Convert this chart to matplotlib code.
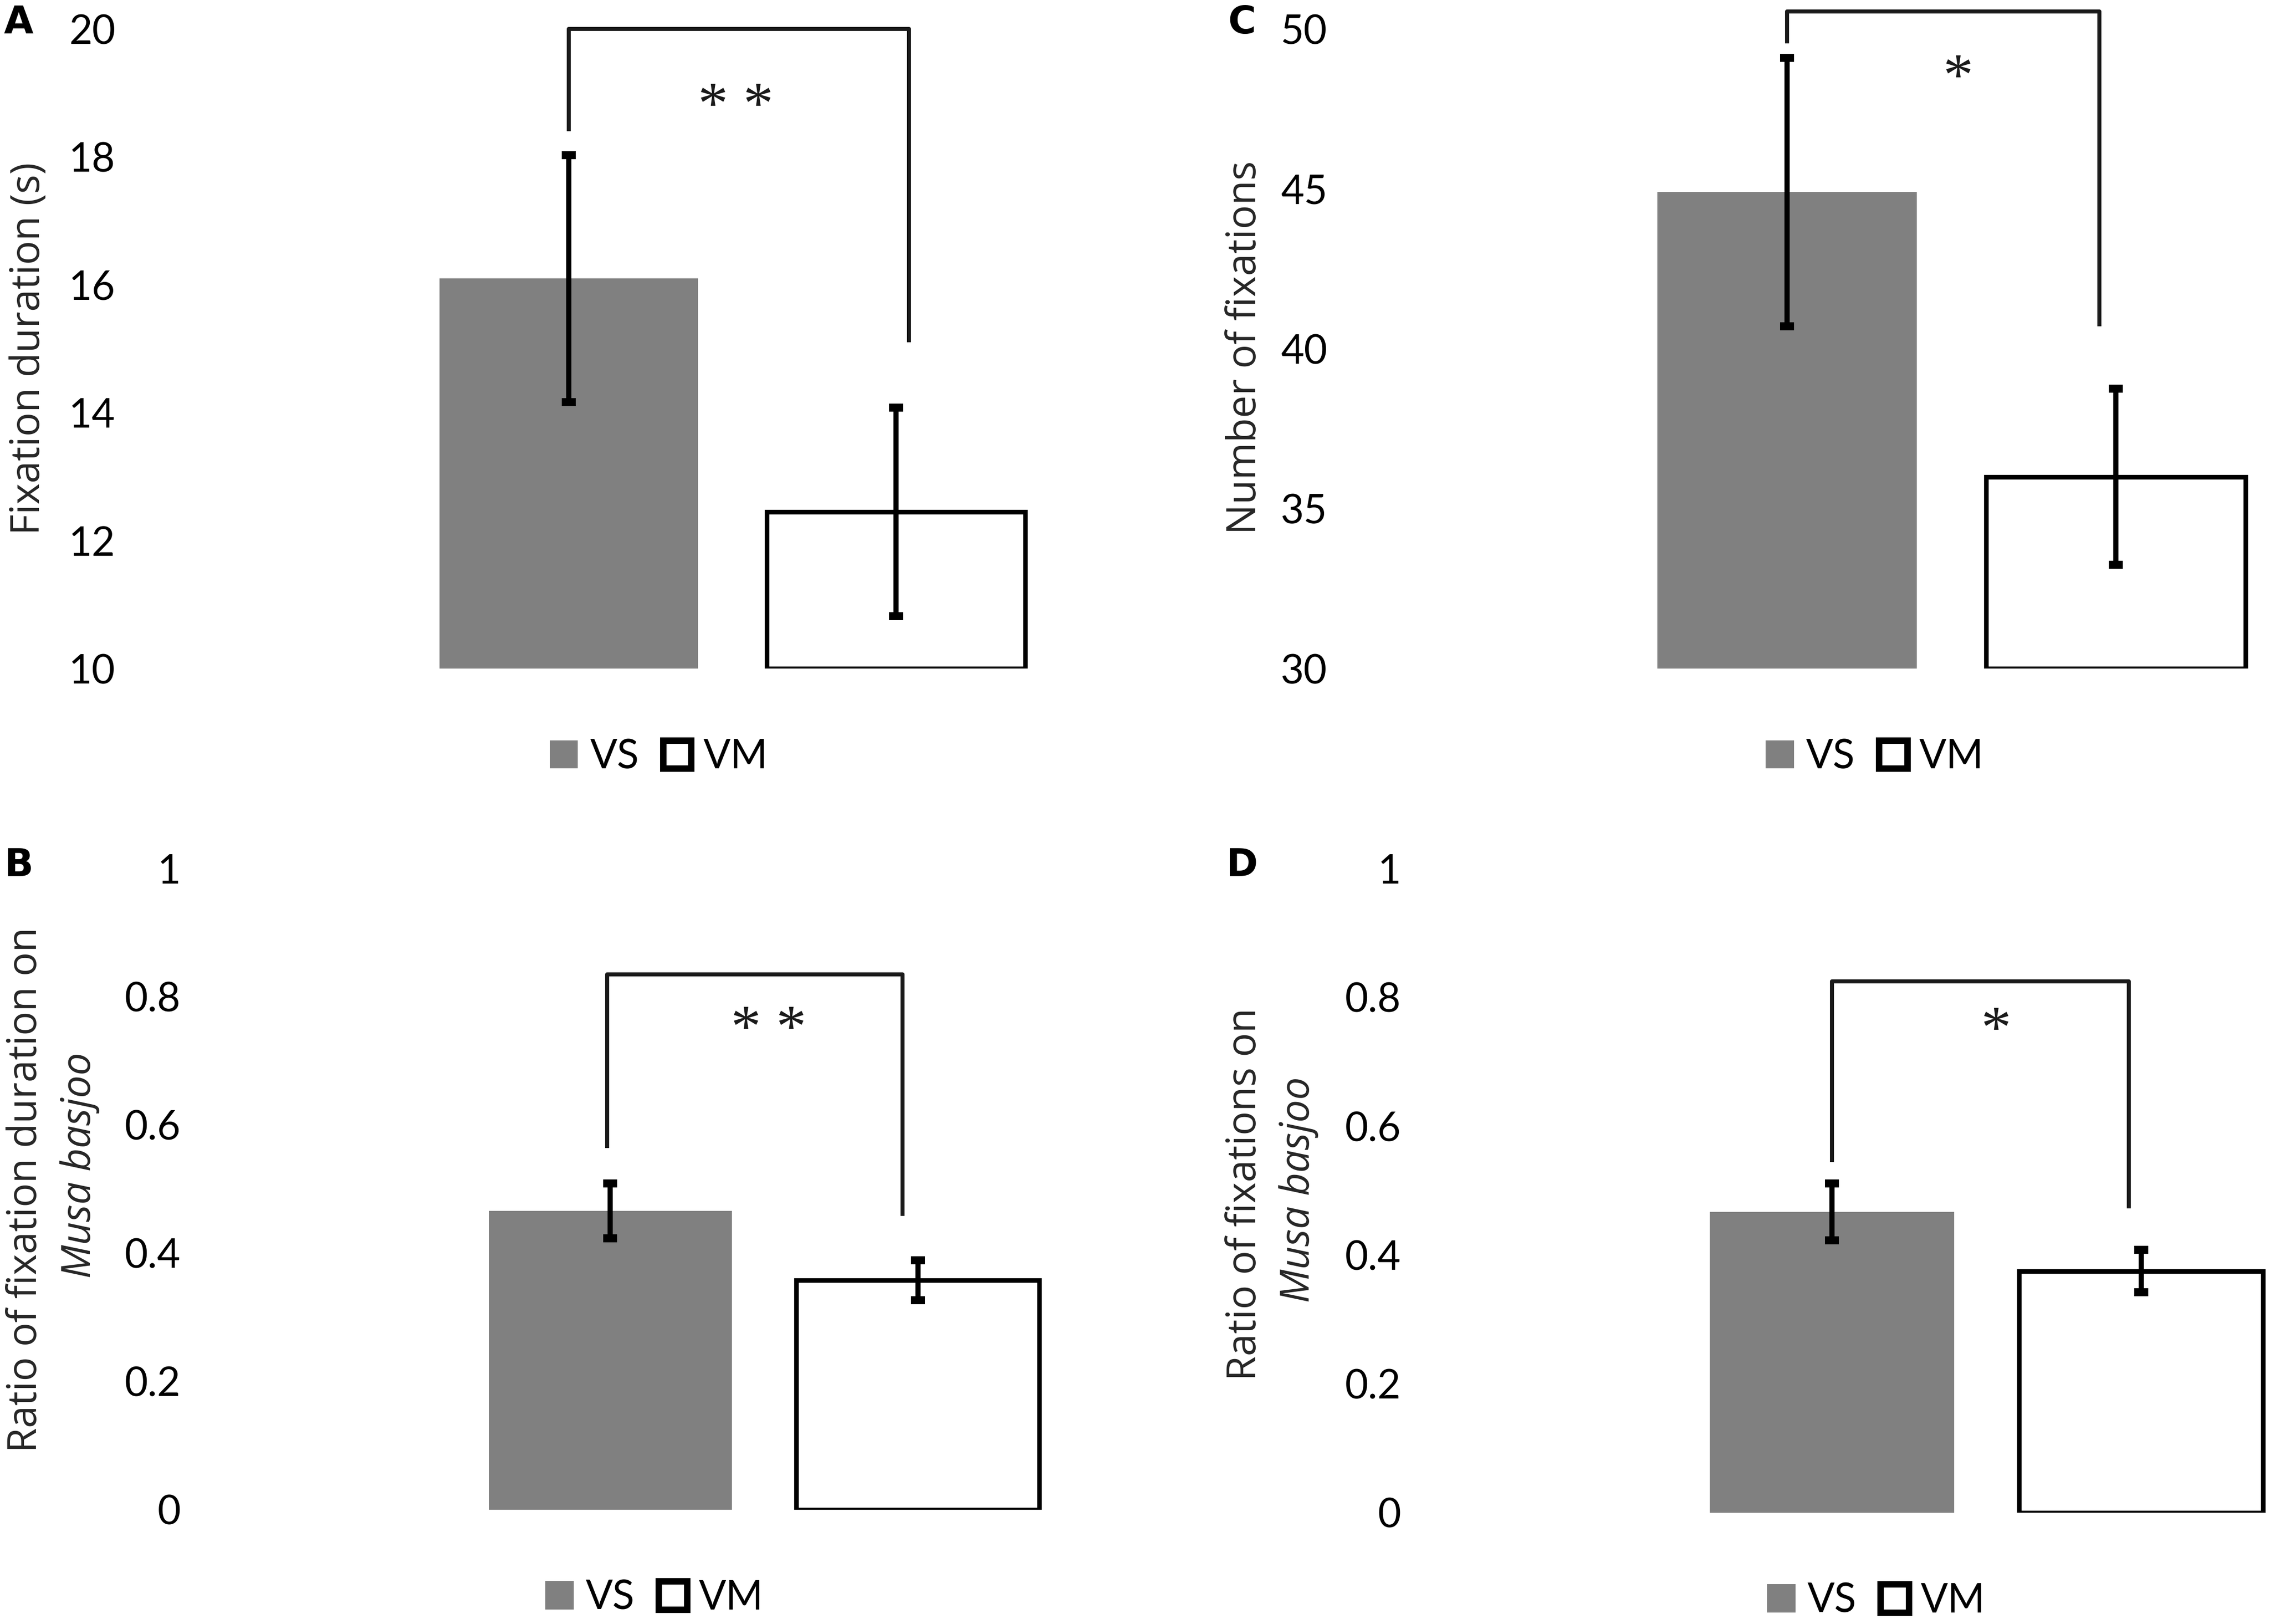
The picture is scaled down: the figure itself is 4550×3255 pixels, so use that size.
import numpy as np
import matplotlib
matplotlib.use('Agg')
import matplotlib.pyplot as plt

# data
groups = ['VS', 'VM']

fix_dur_mean = [16.1, 12.45]
fix_dur_err = [1.93, 1.63]

n_fix_mean = [44.9, 36.0]
n_fix_err = [4.2, 2.75]

ratio_dur_mean = [0.466, 0.358]
ratio_dur_err = [0.043, 0.031]

ratio_fix_mean = [0.467, 0.375]
ratio_fix_err = [0.044, 0.033]

W, H = 1568.0, 1122.0  # layout worked out in reference display pixels
fig = plt.figure(figsize=(4550 / 290, 3255 / 290), dpi=290)

tick_font = ['Lato', 'DejaVu Sans']
label_font = ['Open Sans', 'DejaVu Sans']
star_font = ['Liberation Serif', 'DejaVu Serif']
bar_colors = ['#808080', 'white']
edge_colors = ['none', 'black']


def px_axes(x0, x1, y0, y1):
    return fig.add_axes([x0 / W, 1 - y1 / H, (x1 - x0) / W, (y1 - y0) / H])


def panel(box, xlim, ylim, yticks, yticklabels, means, errs, bracket, stars, leg_xy):
    ax = px_axes(*box)
    x = np.arange(len(groups))
    bars = ax.bar(x, np.array(means) - ylim[0], width=0.79, bottom=ylim[0], color=bar_colors,
                  edgecolor=edge_colors, linewidth=2.3, zorder=2)
    ax.errorbar(x, means, yerr=errs, fmt='none', ecolor='black',
                elinewidth=2.6, capsize=3.5, capthick=4, zorder=3)
    ax.set_xlim(*xlim)
    ax.set_ylim(*ylim)
    ax.set_yticks(yticks)
    ax.set_yticklabels(yticklabels, fontsize=20, family=tick_font)
    ax.set_xticks([])
    ax.tick_params(axis='y', length=0, pad=6)
    for s in ax.spines.values():
        s.set_visible(False)

    top, left_end, right_end, xl, xr = bracket
    ax.plot([xl, xl, xr, xr], [left_end, top, top, right_end], color='#1a1a1a',
            lw=2.0, clip_on=False, solid_capstyle='butt', zorder=1)
    ax.text(stars[1], stars[2], stars[0], ha='center', va='center',
            fontsize=30, family=star_font, color='#1a1a1a')

    leg = ax.legend(bars, groups, loc='center', bbox_to_anchor=(leg_xy[0] / W, 1 - leg_xy[1] / H),
                    bbox_transform=fig.transFigure, ncol=2, frameon=False,
                    prop={'family': tick_font, 'size': 20}, handlelength=0.7,
                    handleheight=0.7, handletextpad=0.3, columnspacing=0.6)
    leg.legend_handles[1].set_linewidth(3.2)
    return ax


# A
panel((88, 720, 20, 462), ((88 - 393) / 226, (720 - 393) / 226), (10, 20),
      [10, 12, 14, 16, 18, 20], ['10', '12', '14', '16', '18', '20'],
      fix_dur_mean, fix_dur_err, (20.0, 18.4, 15.1, 0.0, 1.04), ('* *', 0.51, 18.75), (455, 523))
# C
panel((925, 1565, 20, 462), ((925 - 1234.5) / 227, (1565 - 1234.5) / 227), (30, 50),
      [30, 35, 40, 45, 50], ['30', '35', '40', '45', '50'],
      n_fix_mean, n_fix_err, (50.55, 49.55, 40.7, 0.0, 0.95), ('*', 0.52, 48.4), (1295, 523))
# B
panel((133, 730, 600, 1043), ((133 - 421.5) / 212.5, (730 - 421.5) / 212.5), (0, 1),
      [0, 0.2, 0.4, 0.6, 0.8, 1], ['0', '0.2', '0.4', '0.6', '0.8', '1'],
      ratio_dur_mean, ratio_dur_err, (0.835, 0.564, 0.458, -0.01, 0.95), ('* *', 0.515, 0.745), (452, 1104))
# D
panel((976, 1566, 600, 1045), ((976 - 1265.5) / 213.5, (1566 - 1265.5) / 213.5), (0, 1),
      [0, 0.2, 0.4, 0.6, 0.8, 1], ['0', '0.2', '0.4', '0.6', '0.8', '1'],
      ratio_fix_mean, ratio_fix_err, (0.825, 0.544, 0.472, 0.0, 0.96), ('*', 0.53, 0.745), (1296, 1106))

# axis titles
lab = dict(rotation=90, ha='center', va='center', fontsize=20, family=label_font, color='#262626')
fig.text(20 / W, 1 - 241 / H, 'Fixation duration (s)', **lab)
fig.text(860 / W, 1 - 240 / H, 'Number of fixations', **lab)
fig.text(18 / W, 1 - 822 / H, 'Ratio of fixation duration on', **lab)
fig.text(55 / W, 1 - 805 / H, 'Musa basjoo', style='italic', **lab)
fig.text(860 / W, 1 - 825 / H, 'Ratio of fixations on', **lab)
fig.text(897 / W, 1 - 822 / H, 'Musa basjoo', style='italic', **lab)

# panel letters
for letter, (lx, ly) in zip('ABCD', [(13, 16), (13, 598), (858, 16), (858, 598)]):
    fig.text(lx / W, 1 - ly / H, letter, ha='center', va='center', fontsize=19,
             fontweight='bold', family=['DejaVu Sans'])

fig.savefig('out.png', dpi=290)
